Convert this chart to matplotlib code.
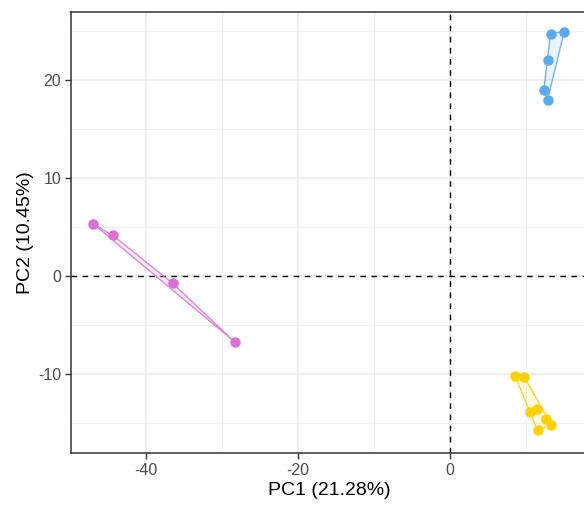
import numpy as np
import matplotlib
matplotlib.use("Agg")
import matplotlib.pyplot as plt
from matplotlib.ticker import MultipleLocator

plt.rcParams['font.family'] = ['Liberation Sans', 'DejaVu Sans']
plt.rcParams['axes.unicode_minus'] = False

# PCA scores per group
group_a_pc1 = [-47.0, -44.4, -36.5, -28.3]
group_a_pc2 = [5.3, 4.1, -0.8, -6.8]

group_b_pc1 = [13.2, 15.0, 12.8, 12.3, 12.8]
group_b_pc2 = [24.7, 24.9, 22.0, 18.9, 17.9]

group_c_pc1 = [8.5, 9.7, 10.5, 11.4, 12.6, 13.3, 11.5]
group_c_pc2 = [-10.2, -10.3, -13.9, -13.6, -14.6, -15.2, -15.8]

colors = ["#DA70D6", "#5AAAEC", "#FFD000"]

x_label = "PC1 (21.28%)"
y_label = "PC2 (10.45%)"


def convex_hull(xs, ys):
    pts = sorted(set(zip(xs, ys)))
    if len(pts) < 3:
        return pts

    def cross(o, a, b):
        return (a[0] - o[0]) * (b[1] - o[1]) - (a[1] - o[1]) * (b[0] - o[0])

    lower, upper = [], []
    for p in pts:
        while len(lower) >= 2 and cross(lower[-2], lower[-1], p) <= 0:
            lower.pop()
        lower.append(p)
    for p in reversed(pts):
        while len(upper) >= 2 and cross(upper[-2], upper[-1], p) <= 0:
            upper.pop()
        upper.append(p)
    return lower[:-1] + upper[:-1]


fig = plt.figure(figsize=(5.84, 5.08), dpi=100)
xlim = (-49.9, 18.0)
ylim = (-18.1, 26.9)
px_per_x = 7.6
left = 71 / 584
width = (xlim[1] - xlim[0]) * px_per_x / 584
bottom = 1 - 453 / 508
height = (453 - 12) / 508
ax = fig.add_axes([left, bottom, width, height])
ax.set_xlim(*xlim)
ax.set_ylim(*ylim)

ax.xaxis.set_major_locator(MultipleLocator(20))
ax.xaxis.set_minor_locator(MultipleLocator(10))
ax.yaxis.set_major_locator(MultipleLocator(10))
ax.yaxis.set_minor_locator(MultipleLocator(5))
ax.grid(which="major", color="#EBEBEB", linewidth=1.1, zorder=0)
ax.grid(which="minor", color="#F0F0F0", linewidth=0.8, zorder=0)
ax.set_axisbelow(True)

ax.axhline(0, color="black", linestyle=(0, (4, 4)), linewidth=1.0, zorder=1)
ax.axvline(0, color="black", linestyle=(0, (4, 4)), linewidth=1.0, zorder=1)

groups = [(group_a_pc1, group_a_pc2), (group_b_pc1, group_b_pc2), (group_c_pc1, group_c_pc2)]
for (xs, ys), col in zip(groups, colors):
    hull = convex_hull(xs, ys)
    hx = [p[0] for p in hull] + [hull[0][0]]
    hy = [p[1] for p in hull] + [hull[0][1]]
    ax.fill(hx, hy, facecolor=col, alpha=0.12, edgecolor="none", zorder=2)
    ax.plot(hx, hy, color=col, linewidth=1.0, alpha=0.85, zorder=3)
    ax.plot(xs, ys, linestyle="none", marker="o", markersize=7.5,
            color=col, markeredgewidth=0, zorder=4)

for s in ax.spines.values():
    s.set_color("#333333")
    s.set_linewidth(1.1)

ax.tick_params(which="major", length=4, width=1.0, color="#333333",
               labelcolor="#4D4D4D", labelsize=11.5, pad=3)
ax.tick_params(which="minor", length=0)

ax.set_xlabel(x_label, fontsize=14, color="black", labelpad=3)
ax.set_ylabel(y_label, fontsize=14, color="black", labelpad=3)

fig.savefig("out.png", dpi=100)
